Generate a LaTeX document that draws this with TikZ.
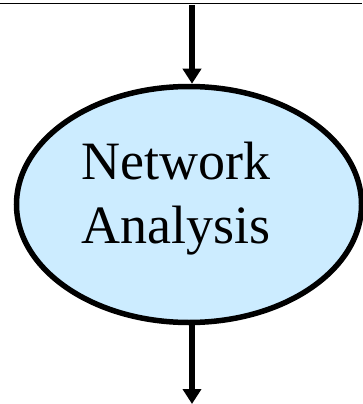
\documentclass[tikz,border=0pt]{standalone}
\usepackage{fontspec}
\setmainfont{Liberation Serif}
\usetikzlibrary{shapes.geometric,arrows.meta}
\definecolor{ellfill}{RGB}{204,236,255}
\begin{document}
\begin{tikzpicture}[x=1pt,y=-1pt,
  procnode/.style={ellipse,draw=black,line width=5.5pt,fill=ellfill,inner sep=0pt,minimum width=345pt,minimum height=236pt},
  flow/.style={line width=5.5pt,-{Triangle[length=15pt,width=18pt]}},
  lbltext/.style={align=center,inner sep=0pt,font=\fontsize{54}{64}\selectfont}]
\useasboundingbox (0,0) rectangle (362,404);
\draw[line width=1.3pt] (0,3.5) -- (362,3.5);
\node[procnode] (e) at (189,204.5) {};
\node[lbltext,anchor=north] (lbl) at (176,142) {Network\\Analysis};
\coordinate (top) at (192,5);
\coordinate (bot) at (192,404);
\draw[flow] (top) -- (top |- e.north);
\draw[flow] (bot |- e.south) -- (bot);
\end{tikzpicture}
\end{document}
